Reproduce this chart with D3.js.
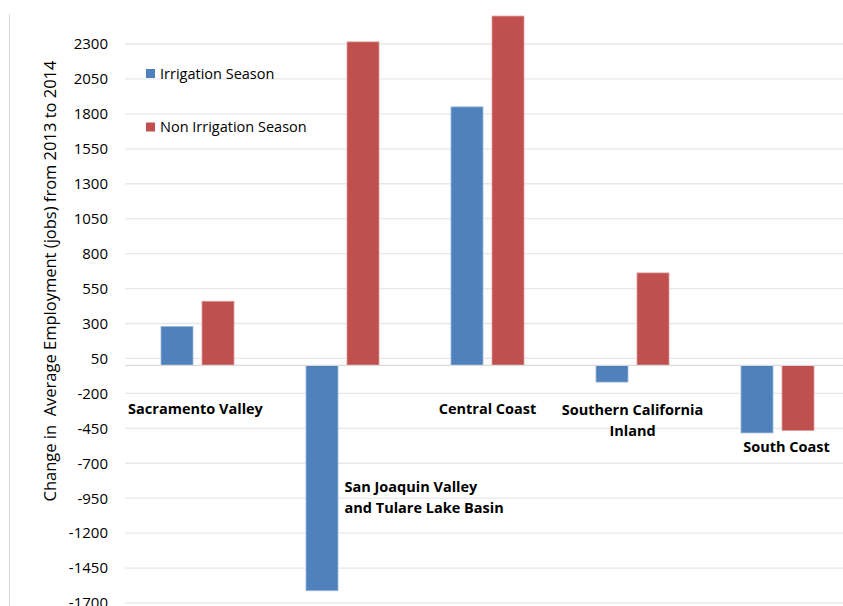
<!DOCTYPE html>
<html>
<head>
<meta charset="utf-8">
<script src="https://cdn.jsdelivr.net/npm/d3@7/dist/d3.min.js"></script>
<style>
  html, body { margin: 0; padding: 0; background: #fff; }
  svg { display: block; }
  text { font-family: "Open Sans", "Noto Sans", sans-serif; fill: #000; }
</style>
</head>
<body>
<svg id="chart" width="843" height="606"></svg>
<script>
// ---- data ----
const regions = ["Sacramento Valley", "San Joaquin Valley and Tulare Lake Basin", "Central Coast", "Southern California Inland", "South Coast"];
const regionLabelLines = [["Sacramento Valley"], ["San Joaquin Valley", "and Tulare Lake Basin"], ["Central Coast"], ["Southern California", "Inland"], ["South Coast"]];
const seriesNames = ["Irrigation Season", "Non Irrigation Season"];
const irrigation = [279, -1612, 1850, -119, -483];
const nonIrrigation = [459, 2315, 2500, 662, -466];
const yTicks = [-1700, -1450, -1200, -950, -700, -450, -200, 50, 300, 550, 800, 1050, 1300, 1550, 1800, 2050, 2300];
const yTitle = "Change in  Average Employment (jobs) from 2013 to 2014";

// ---- layout (not data) ----
const colors = ["#4F81BD", "#C0504D"];
const strokes = ["#9db8da", "#dc9c9a"];
const plotLeft = 125, plotRight = 850;
// label placement: dx from band centre, dy from zero line, anchor
const labelLayout = [
  {dx: -2, dy: 49, anchor: "middle"},
  {dx: 2, dy: 127, anchor: "start"},
  {dx: 0, dy: 49, anchor: "middle"},
  {dx: 0, dy: 50, anchor: "middle"},
  {dx: 9, dy: 87, anchor: "middle"}
];

const svg = d3.select("#chart");

const y = d3.scaleLinear().domain([-1700, 2300]).range([603, 44]);
const yTop = y(2550);

const x0 = d3.scaleBand().domain(regions).range([plotLeft, plotRight])
  .paddingInner(72 / 145).paddingOuter(36 / 145);
const x1 = d3.scaleBand().domain(seriesNames).range([0, x0.bandwidth()])
  .paddingInner(9 / 41).paddingOuter(0);

// left chart border
svg.append("line").attr("x1", 9.5).attr("x2", 9.5).attr("y1", 14).attr("y2", 606)
  .attr("stroke", "#d9d9d9").attr("stroke-width", 1);

// gridlines
svg.append("g").selectAll("line").data(yTicks).join("line")
  .attr("x1", plotLeft).attr("x2", 843)
  .attr("y1", d => y(d)).attr("y2", d => y(d))
  .attr("stroke", "#e8e8e8").attr("stroke-width", 1.3);

// y axis labels
const yAxis = d3.axisLeft(y).tickValues(yTicks).tickSize(0).tickPadding(0).tickFormat(d => String(d));
const gy = svg.append("g").attr("transform", `translate(108,0)`).call(yAxis);
gy.select(".domain").remove();
gy.selectAll("text").attr("font-size", "15px").attr("fill", "#000")
  .style("font-family", '"Open Sans", sans-serif');

// y title
svg.append("text")
  .attr("transform", `translate(56,281) rotate(-90)`)
  .attr("text-anchor", "middle")
  .attr("font-size", "16.5px")
  .style("white-space", "pre")
  .text(yTitle);

// bars
const values = [irrigation, nonIrrigation];
const groups = svg.append("g").selectAll("g").data(regions).join("g")
  .attr("transform", d => `translate(${x0(d)},0)`);
groups.selectAll("rect")
  .data((d, i) => seriesNames.map((s, k) => ({s, k, v: values[k][i]})))
  .join("rect")
  .attr("x", d => x1(d.s))
  .attr("width", x1.bandwidth())
  .attr("height", d => Math.abs(Math.max(y(d.v), yTop) - y(0)))
  .attr("y", d => Math.min(Math.max(y(d.v), yTop), y(0)))
  .attr("fill", d => colors[d.k])
  .attr("stroke", d => strokes[d.k]).attr("stroke-width", 0.8);

// zero line
svg.append("line").attr("x1", plotLeft).attr("x2", 843)
  .attr("y1", y(0)).attr("y2", y(0))
  .attr("stroke", "#d9d9d9").attr("stroke-width", 1.2);

// category labels
regions.forEach((r, i) => {
  const L = labelLayout[i];
  const cx = x0(r) + x0.bandwidth() / 2 + L.dx;
  const t = svg.append("text")
    .attr("x", cx).attr("y", y(0) + L.dy)
    .attr("text-anchor", L.anchor)
    .attr("font-size", "14.5px").attr("font-weight", "bold");
  regionLabelLines[i].forEach((line, j) => {
    t.append("tspan").attr("x", cx).attr("dy", j === 0 ? 0 : 20.5).text(line);
  });
});

// legend
const legend = svg.append("g");
const legendY = [73.5, 127];
seriesNames.forEach((s, k) => {
  legend.append("rect").attr("x", 146).attr("y", legendY[k] - 4.5).attr("width", 9).attr("height", 9)
    .attr("fill", colors[k]);
  legend.append("text").attr("x", 160).attr("y", legendY[k]).attr("dy", "0.35em")
    .attr("font-size", "14.5px").attr("fill", "#222").text(s);
});
</script>
</body>
</html>
